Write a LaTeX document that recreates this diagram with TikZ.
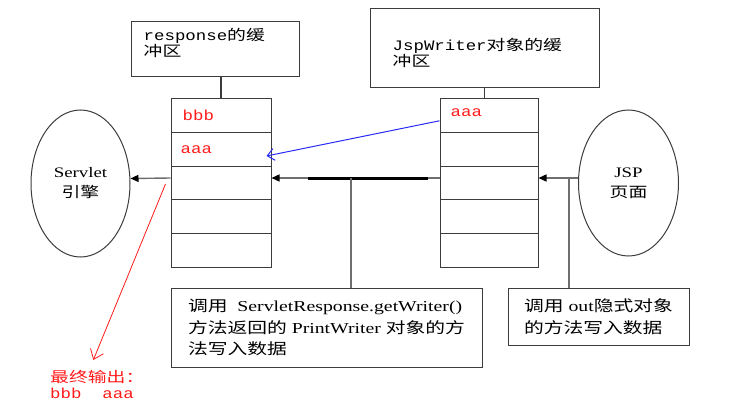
\documentclass[tikz,border=0pt]{standalone}
\usepackage{fontspec}
\setmainfont{Liberation Serif}[FakeStretch=1.3]
\setmonofont{Liberation Mono}[FakeStretch=1.2]
\newfontfamily\cjk{Noto Sans CJK SC}[FakeStretch=1.3]
\usetikzlibrary{arrows.meta,shapes.geometric}
\definecolor{boxgray}{HTML}{3C3C3C}
\definecolor{linegray}{HTML}{6E6E6E}
\definecolor{outred}{HTML}{FF1A1A}
\definecolor{outblue}{HTML}{2A2AF5}
\tikzset{
  bufbox/.style={draw=boxgray, line width=1pt, inner sep=0pt},
  cell/.style={draw=boxgray, line width=1pt, minimum width=#1, minimum height=33.6pt, inner sep=0pt},
  engine/.style={ellipse, draw=boxgray, line width=1pt, minimum width=99pt, minimum height=147pt, inner sep=0pt, align=center, font=\fontsize{14.5}{20}\selectfont},
  boxtxt/.style={inner sep=1pt, align=left, font=\fontsize{14.5}{16}\selectfont\ttfamily},
  notebox/.style={draw=boxgray, line width=1pt, align=left, inner sep=0pt, font=\fontsize{15.2}{21.5}\selectfont},
  redtxt/.style={text=outred, inner sep=1pt, font=\fontsize{14.5}{16}\selectfont\ttfamily},
  wire/.style={draw=boxgray, line width=1.2pt},
  conn/.style={draw=linegray, line width=1.4pt, -{Triangle[length=8pt,width=7pt,color=black]}},
  bluearr/.style={draw=outblue, line width=1pt, -{Straight Barb[length=7pt,width=12pt]}},
  redarr/.style={draw=outred, line width=0.8pt, -{Straight Barb[length=9pt,width=14pt]}}
}
\begin{document}
\begin{tikzpicture}[x=1pt,y=-1pt]
\useasboundingbox (0,0) rectangle (737,420);
\node[bufbox, minimum width=168pt, minimum height=55pt] (resbuf) at (215,49.5) {};
\node[boxtxt, anchor=north west] (restxt) at ([xshift=12pt,yshift=-6pt]resbuf.north west) {response{\cjk 的缓}\\{\cjk 冲区}};
\node[bufbox, minimum width=229pt, minimum height=79pt] (jspbuf) at (484.5,48.5) {};
\node[boxtxt, anchor=north west] (jsptxt) at ([xshift=22pt,yshift=-29pt]jspbuf.north west) {JspWriter{\cjk 对象的缓}\\{\cjk 冲区}};
\foreach \i in {1,...,5}{
  \node[cell=100pt] (L\i) at (221,{99+33.6*(\i-0.5)}) {};
  \node[cell=98pt] (R\i) at (489,{99+33.6*(\i-0.5)}) {};
}
\node[redtxt, anchor=west] (bbb) at ([xshift=11pt]L1.west) {bbb};
\node[redtxt, anchor=west] (aaaL) at ([xshift=9pt]L2.west) {aaa};
\node[redtxt, anchor=west] (aaaR) at ([xshift=10pt,yshift=3pt]R1.west) {aaa};
\node[engine] (servlet) at (80.5,183.5) {Servlet\\{\cjk 引擎}};
\node[engine, minimum width=100pt, minimum height=146pt] (jsp) at (628.5,183) {JSP\\{\cjk 页面}};
\node[notebox, minimum width=311pt, minimum height=79pt] (pwbox) at (326.5,327.5) {{\cjk 调用}\ \ ServletResponse.getWriter()\\{\cjk 方法返回的} PrintWriter {\cjk 对象的方}\\{\cjk 法写入数据}};
\node[notebox, minimum width=181pt, minimum height=57pt] (outbox) at (598.5,316.5) {{\cjk 调用} out{\cjk 隐式对象}\\{\cjk 的方法写入数据}};
\node[redtxt, align=left, anchor=north west] (final) at (49,369) {{\cjk 最终输出：}\\bbb\ \ aaa};
\coordinate (midline) at ([yshift=5pt]L3.east);
\coordinate (jspline) at ([yshift=5pt]jsp.west);
\draw[wire] (L1.north) -- (L1.north |- resbuf.south);
\draw[wire] (jspbuf.south) -- (jspbuf.south |- R1.north);
\draw[conn] ([yshift=5pt]L3.west) -- ([yshift=5pt]servlet.east);
\draw[conn] (jspline) -- ([yshift=5pt]R3.east);
\draw[conn] ([yshift=5pt]R3.west) -- (midline);
\draw[line width=3pt] ([xshift=36pt]midline) -- ([xshift=-12pt,yshift=5pt]R3.west);
\draw[wire, draw=linegray, line width=1.4pt] ([xshift=24.5pt]pwbox.north) -- ([xshift=24.5pt]pwbox.north |- midline);
\draw[wire, draw=linegray, line width=1.4pt] ([xshift=-29.5pt]outbox.north) -- ([xshift=-29.5pt]outbox.north |- jspline);
\draw[bluearr] ([yshift=-5pt]R1.west) -- ([xshift=-5pt,yshift=-6.6pt]L2.east);
\draw[redarr] ([xshift=-5pt,yshift=-1pt]L3.west) -- ([xshift=-4pt,yshift=9pt]final.north);
\end{tikzpicture}
\end{document}
